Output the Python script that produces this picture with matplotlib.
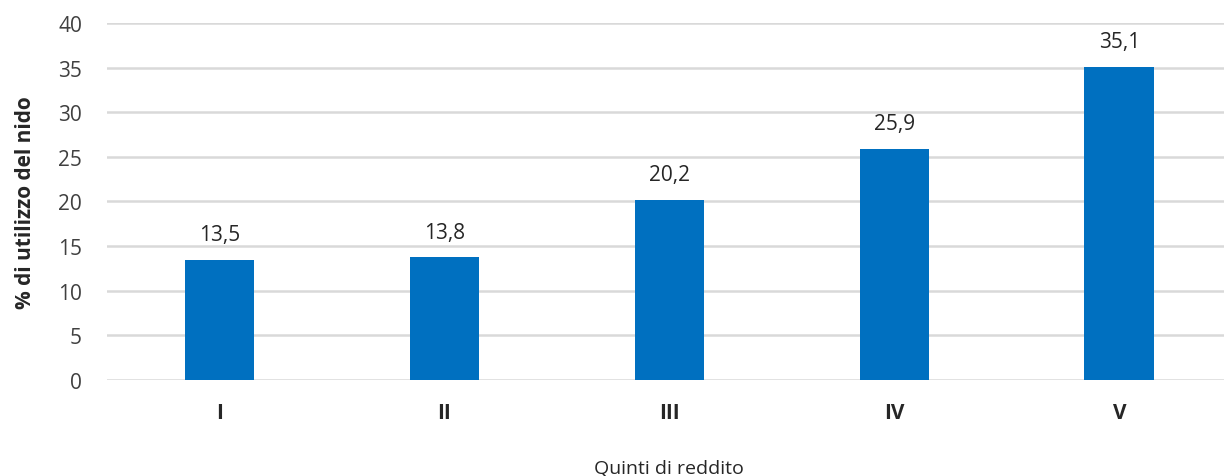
import matplotlib.pyplot as plt

quintili = ["I", "II", "III", "IV", "V"]
utilizzo = [13.5, 13.8, 20.2, 25.9, 35.1]
etichette = ["13,5", "13,8", "20,2", "25,9", "35,1"]

plt.rcParams['font.family'] = ['Open Sans', 'DejaVu Sans']

fig = plt.figure(figsize=(12.24, 4.77), dpi=100)
ax = fig.add_axes([0.0874, 0.201, 0.919, 0.749])

x = range(len(quintili))
bars = ax.bar(x, utilizzo, width=0.31, color="#0070C0", zorder=3)
for b, lab in zip(bars, etichette):
    ax.text(b.get_x() + b.get_width() / 2, b.get_height() + 1.6, lab,
            ha="center", va="bottom", fontsize=15, color="#262626")

ax.set_xlim(-0.5, 4.5)
ax.set_ylim(0, 40)
ax.set_yticks(range(0, 41, 5))
ax.yaxis.grid(True, color="#d9d9d9", linewidth=1.8, zorder=0)
ax.set_axisbelow(True)
for s in ax.spines.values():
    s.set_visible(False)
ax.tick_params(length=0)
ax.tick_params(axis="y", pad=18, labelsize=15, labelcolor="#404040")
ax.set_xticks(list(x))
ax.set_xticklabels(quintili, fontsize=15, fontweight="bold", color="#262626")
ax.tick_params(axis="x", pad=16)

ax.set_xlabel("Quinti di reddito", fontsize=14, color="#262626", labelpad=26)
ax.set_ylabel("% di utilizzo del nido", fontsize=15, fontweight="bold",
              color="#262626", labelpad=16)

fig.savefig("out.png", dpi=100)
